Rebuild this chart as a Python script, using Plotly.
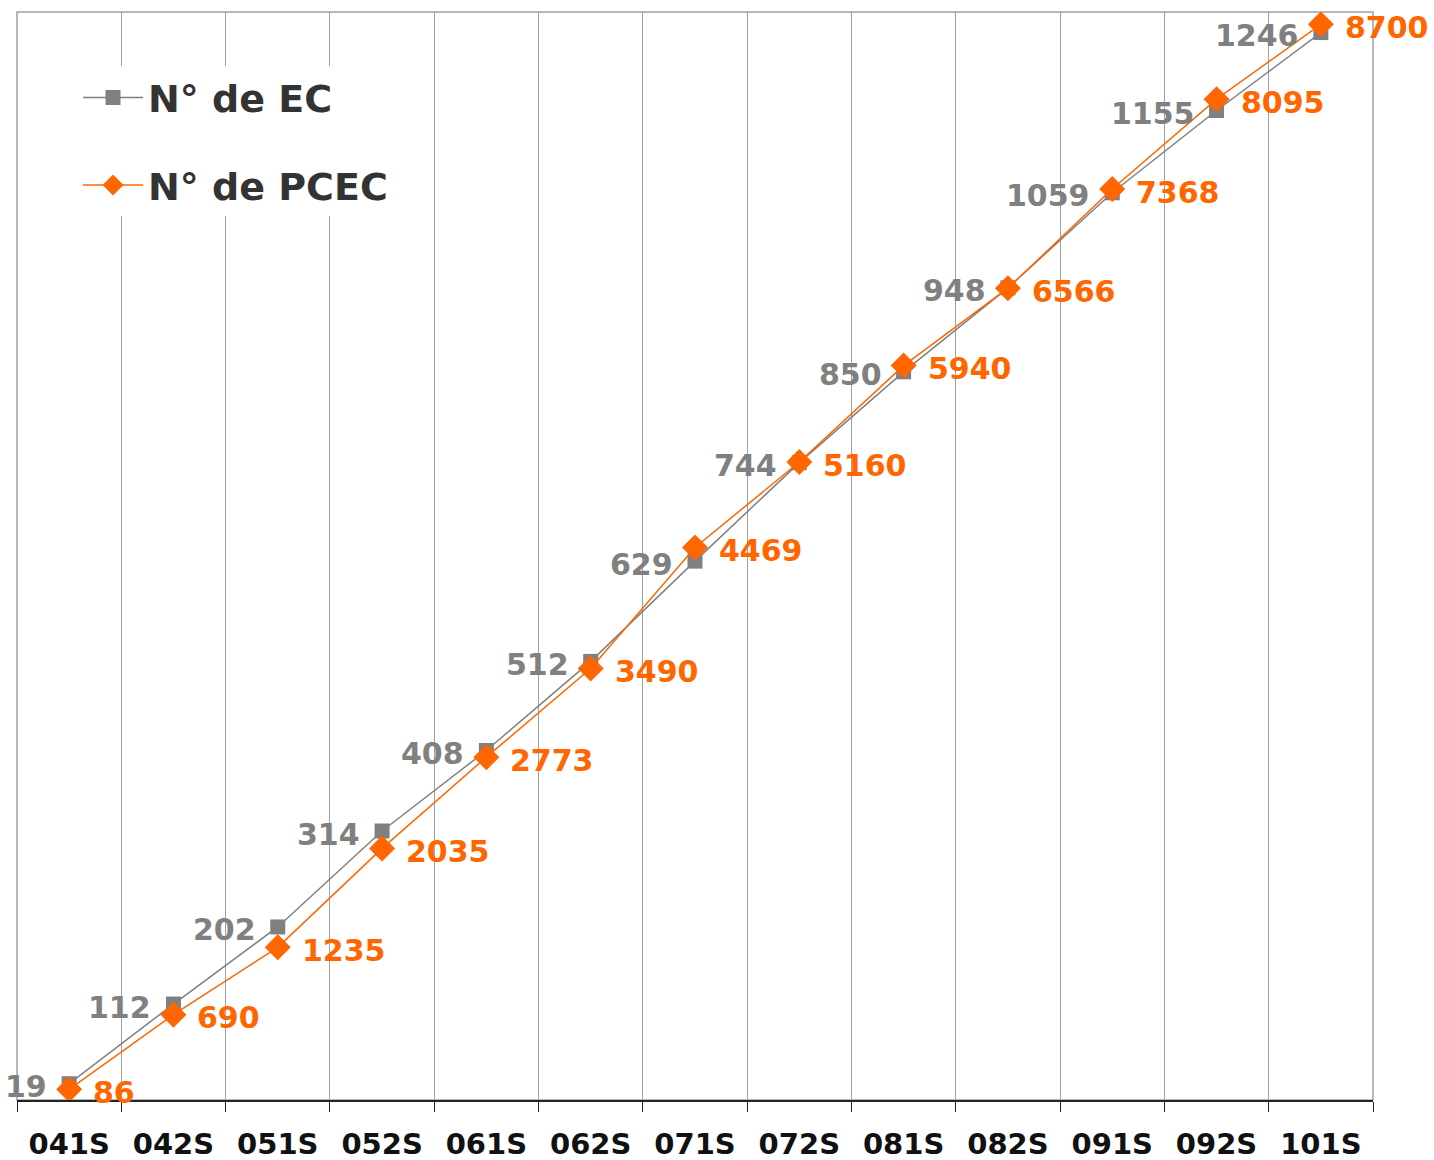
import plotly.graph_objects as go

# Semestres
periodos = ["041S", "042S", "051S", "052S", "061S", "062S", "071S",
            "072S", "081S", "082S", "091S", "092S", "101S"]

# Nº de EC (eixo esquerdo) e Nº de PCEC (eixo direito)
num_ec = [19, 112, 202, 314, 408, 512, 629, 744, 850, 948, 1059, 1155, 1246]
num_pcec = [86, 690, 1235, 2035, 2773, 3490, 4469, 5160, 5940, 6566, 7368, 8095, 8700]

CINZA = "#808080"
LARANJA = "#FF6600"
FONTE = "DejaVu Sans"

fig = go.Figure()

fig.add_trace(go.Scatter(
    x=periodos, y=num_ec, name="N° de EC",
    mode="lines+markers",
    line=dict(color=CINZA, width=1.5),
    marker=dict(symbol="square", size=15, color=CINZA),
    legendgroup="ec",
))

fig.add_trace(go.Scatter(
    x=periodos, y=num_pcec, name="N° de PCEC", yaxis="y2",
    mode="lines+markers",
    line=dict(color=LARANJA, width=1.5),
    marker=dict(symbol="diamond", size=20, color=LARANJA),
    legendgroup="pcec",
))

# rótulos de dados: EC à esquerda, PCEC à direita
for p, v in zip(periodos, num_ec):
    fig.add_annotation(x=p, y=v, yref="y", text=str(v), showarrow=False,
                       xanchor="right", xshift=-20, yshift=-3,
                       font=dict(family=FONTE, size=30, color=CINZA, weight="bold"))
for p, v in zip(periodos, num_pcec):
    fig.add_annotation(x=p, y=v, yref="y2", text=str(v), showarrow=False,
                       xanchor="left", xshift=22, yshift=-3,
                       font=dict(family=FONTE, size=30, color=LARANJA, weight="bold"))

# moldura cinza da área do gráfico
fig.add_shape(type="rect", xref="paper", yref="paper", x0=0, x1=1, y0=0, y1=1,
              line=dict(color="#A0A0A0", width=1.5), layer="below")

fig.update_layout(
    width=1434, height=1160,
    template="none",
    margin=dict(l=17, r=61, t=12, b=60),
    paper_bgcolor="white", plot_bgcolor="white",
    font=dict(family=FONTE),
    showlegend=True,
    legend=dict(
        x=0.045, y=0.95, xanchor="left", yanchor="top",
        bgcolor="white", borderwidth=0,
        font=dict(family=FONTE, size=38, color="#333333", weight="bold"),
        itemwidth=60, tracegroupgap=35,
    ),
    xaxis=dict(
        type="category", tickson="boundaries", range=[-0.5, 12.5],
        showgrid=True, gridcolor="#A0A0A0", gridwidth=1,
        showline=True, linecolor="#222222", linewidth=1.5,
        ticks="outside", ticklen=10, tickcolor="#222222",
        tickfont=dict(family=FONTE, size=29, color="#111111", weight="bold"),
        ticklabelstandoff=17,
        automargin=False, zeroline=False,
    ),
    yaxis=dict(range=[0, 1270], visible=False, showgrid=False),
    yaxis2=dict(range=[0, 8800], overlaying="y", side="right",
                visible=False, showgrid=False),
)

fig.write_html("out.html", config={"displayModeBar": False},
               post_script="document.body.style.margin='0';")
